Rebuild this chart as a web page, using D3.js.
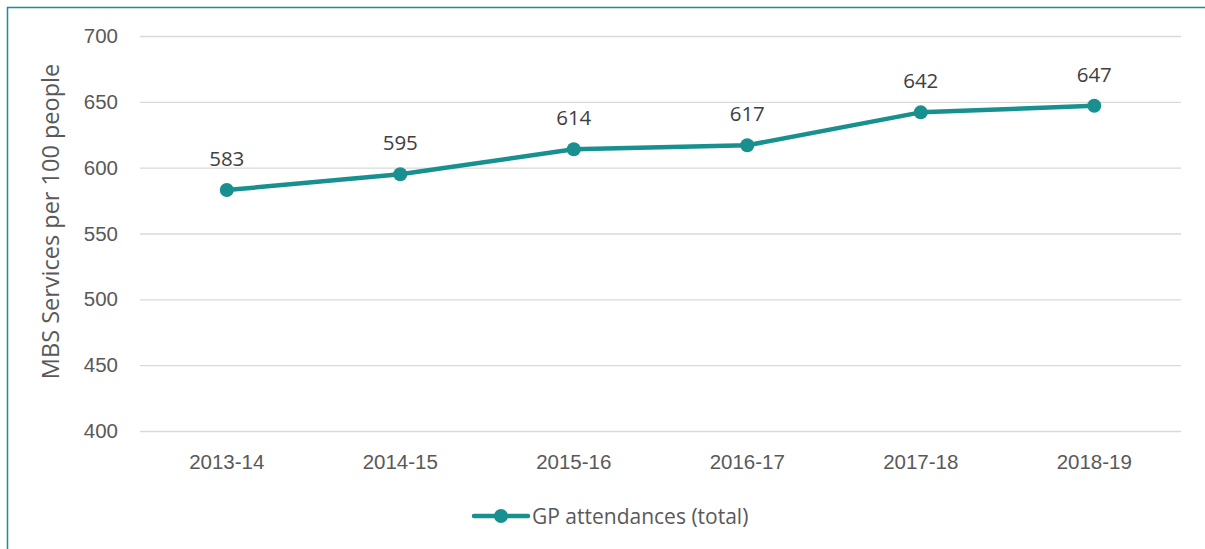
<!DOCTYPE html>
<html>
<head>
<meta charset="utf-8">
<script src="https://cdn.jsdelivr.net/npm/d3@7"></script>
<style>
  html, body { margin: 0; padding: 0; background: #fff; }
  svg { display: block; font-family: "Open Sans", "Noto Sans", sans-serif; }
</style>
</head>
<body>
<svg id="chart" width="1205" height="549"></svg>
<script>
const years = ['2013-14', '2014-15', '2015-16', '2016-17', '2017-18', '2018-19'];
const gpValues = [583, 595, 614, 617, 642, 647];
const yTicks = [400, 450, 500, 550, 600, 650, 700];
const seriesName = 'GP attendances (total)';

const svg = d3.select('#chart');
const width = +svg.attr('width');
const height = +svg.attr('height');
const margin = { top: 36, right: 24, bottom: 118, left: 140 };
const chartWidth = width - margin.left - margin.right;
const chartHeight = height - margin.top - margin.bottom;
const teal = '#17908f';
const textColor = '#595959';

// frame
svg.append('path')
    .attr('d', `M7.5,${height} V7.5 H${width}`)
    .attr('fill', 'none')
    .attr('stroke', teal)
    .attr('stroke-width', 1.5);

const g = svg.append('g')
    .attr('transform', `translate(${margin.left},${margin.top})`);

const xScale = d3.scaleBand().domain(years).range([0, chartWidth]);
const yScale = d3.scaleLinear().domain([400, 700]).range([chartHeight, 0]);

// grid
const yGrid = g.append('g')
    .call(d3.axisLeft(yScale).tickValues(yTicks).tickSize(-chartWidth).tickFormat(''));
yGrid.select('.domain').remove();
yGrid.selectAll('line').attr('stroke', '#d9d9d9').attr('stroke-width', 1.3);

// y axis labels
const yAxis = g.append('g')
    .call(d3.axisLeft(yScale).tickValues(yTicks).tickSize(0).tickPadding(22));
yAxis.select('.domain').remove();
yAxis.selectAll('text').attr('fill', textColor).attr('font-size', '20.5px');

// x axis labels
const xAxis = g.append('g')
    .attr('transform', `translate(0,${chartHeight})`)
    .call(d3.axisBottom(xScale).tickSize(0).tickPadding(23));
xAxis.select('.domain').remove();
xAxis.selectAll('text').attr('fill', textColor).attr('font-size', '20.5px');

// y title
g.append('text')
    .attr('transform', `translate(${50 - margin.left},${chartHeight / 2 - 12}) rotate(-90)`)
    .attr('text-anchor', 'middle')
    .attr('dominant-baseline', 'central')
    .attr('fill', textColor)
    .attr('font-size', '23.5px')
    .text('MBS Services per 100 people');

const data = years.map((y, i) => ({ year: y, value: gpValues[i] }));
const xPos = d => xScale(d.year) + xScale.bandwidth() / 2;

const line = d3.line().x(xPos).y(d => yScale(d.value));

g.append('path')
    .datum(data)
    .attr('d', line)
    .attr('fill', 'none')
    .attr('stroke', teal)
    .attr('stroke-width', 4.5)
    .attr('stroke-linejoin', 'round');

g.selectAll('.pt').data(data).enter().append('circle')
    .attr('class', 'pt')
    .attr('cx', xPos)
    .attr('cy', d => yScale(d.value))
    .attr('r', 7)
    .attr('fill', teal);

g.selectAll('.lbl').data(data).enter().append('text')
    .attr('class', 'lbl')
    .attr('x', xPos)
    .attr('y', d => yScale(d.value) - 32)
    .attr('text-anchor', 'middle')
    .attr('dominant-baseline', 'central')
    .attr('fill', '#404040')
    .attr('font-size', '20.5px')
    .text(d => d.value);

// legend
const legend = svg.append('g').attr('transform', 'translate(474,516)');
legend.append('line')
    .attr('x1', 0).attr('x2', 54)
    .attr('stroke', teal).attr('stroke-width', 4.5).attr('stroke-linecap', 'round');
legend.append('circle').attr('cx', 27).attr('r', 7).attr('fill', teal);
legend.append('text')
    .attr('x', 58)
    .attr('dominant-baseline', 'central')
    .attr('fill', textColor)
    .attr('font-size', '21px')
    .text(seriesName);
</script>
</body>
</html>
